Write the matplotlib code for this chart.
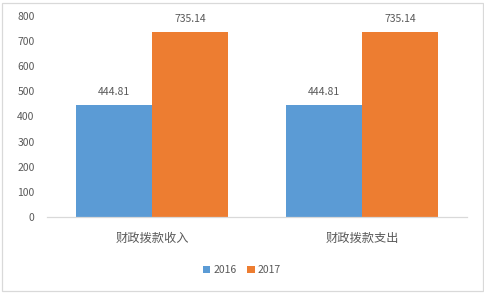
import matplotlib
matplotlib.use("Agg")
import matplotlib.pyplot as plt
import numpy as np
from matplotlib.patches import Rectangle

plt.rcParams['font.family'] = ['Noto Sans CJK SC', 'DejaVu Sans']

categories = ["财政拨款收入", "财政拨款支出"]
series_names = ["2016", "2017"]
values_2016 = [444.81, 444.81]
values_2017 = [735.14, 735.14]
yticks = [0, 100, 200, 300, 400, 500, 600, 700, 800]

colors = ["#5B9BD5", "#ED7D31"]
text_color = "#595959"

fig = plt.figure(figsize=(4.85, 2.93), dpi=100)
ax = fig.add_axes([47/485, 1-217/293, (467-47)/485, (217-16)/293])

x = np.arange(len(categories))
w = 0.362
b1 = ax.bar(x - w/2, values_2016, w, color=colors[0], label=series_names[0])
b2 = ax.bar(x + w/2, values_2017, w, color=colors[1], label=series_names[1])

for bars, vals in ((b1, values_2016), (b2, values_2017)):
    for rect, v in zip(bars, vals):
        ax.annotate(f"{v:.2f}", (rect.get_x() + rect.get_width()/2, v),
                    xytext=(0, 6), textcoords="offset points",
                    ha="center", va="bottom", fontsize=7.5, color=text_color)

ax.set_xlim(-0.5, len(categories) - 0.5)
ax.set_ylim(0, 800)
ax.set_yticks(yticks)
ax.set_xticks(x)
ax.set_xticklabels(categories, fontsize=8.8, color=text_color)
ax.tick_params(axis='y', labelsize=7.5, colors=text_color, length=0, pad=9)
ax.tick_params(axis='x', length=0, pad=11)
for s in ["top", "right", "left"]:
    ax.spines[s].set_visible(False)
ax.spines["bottom"].set_color("#D9D9D9")
ax.spines["bottom"].set_linewidth(0.9)

leg = fig.legend(handles=[b1, b2], labels=series_names, loc="center",
                 bbox_to_anchor=(242/485, 1-270/293), ncol=2, frameon=False,
                 fontsize=7.5, handlelength=0.7, handleheight=0.7,
                 handletextpad=0.3, columnspacing=1.0)
for t in leg.get_texts():
    t.set_color(text_color)

fig.patches.append(Rectangle((2/485, 2/293), 481/485, 288/293, transform=fig.transFigure,
                             fill=False, edgecolor="#D9D9D9", linewidth=0.9))

fig.savefig("out.png", dpi=100, facecolor="white")
